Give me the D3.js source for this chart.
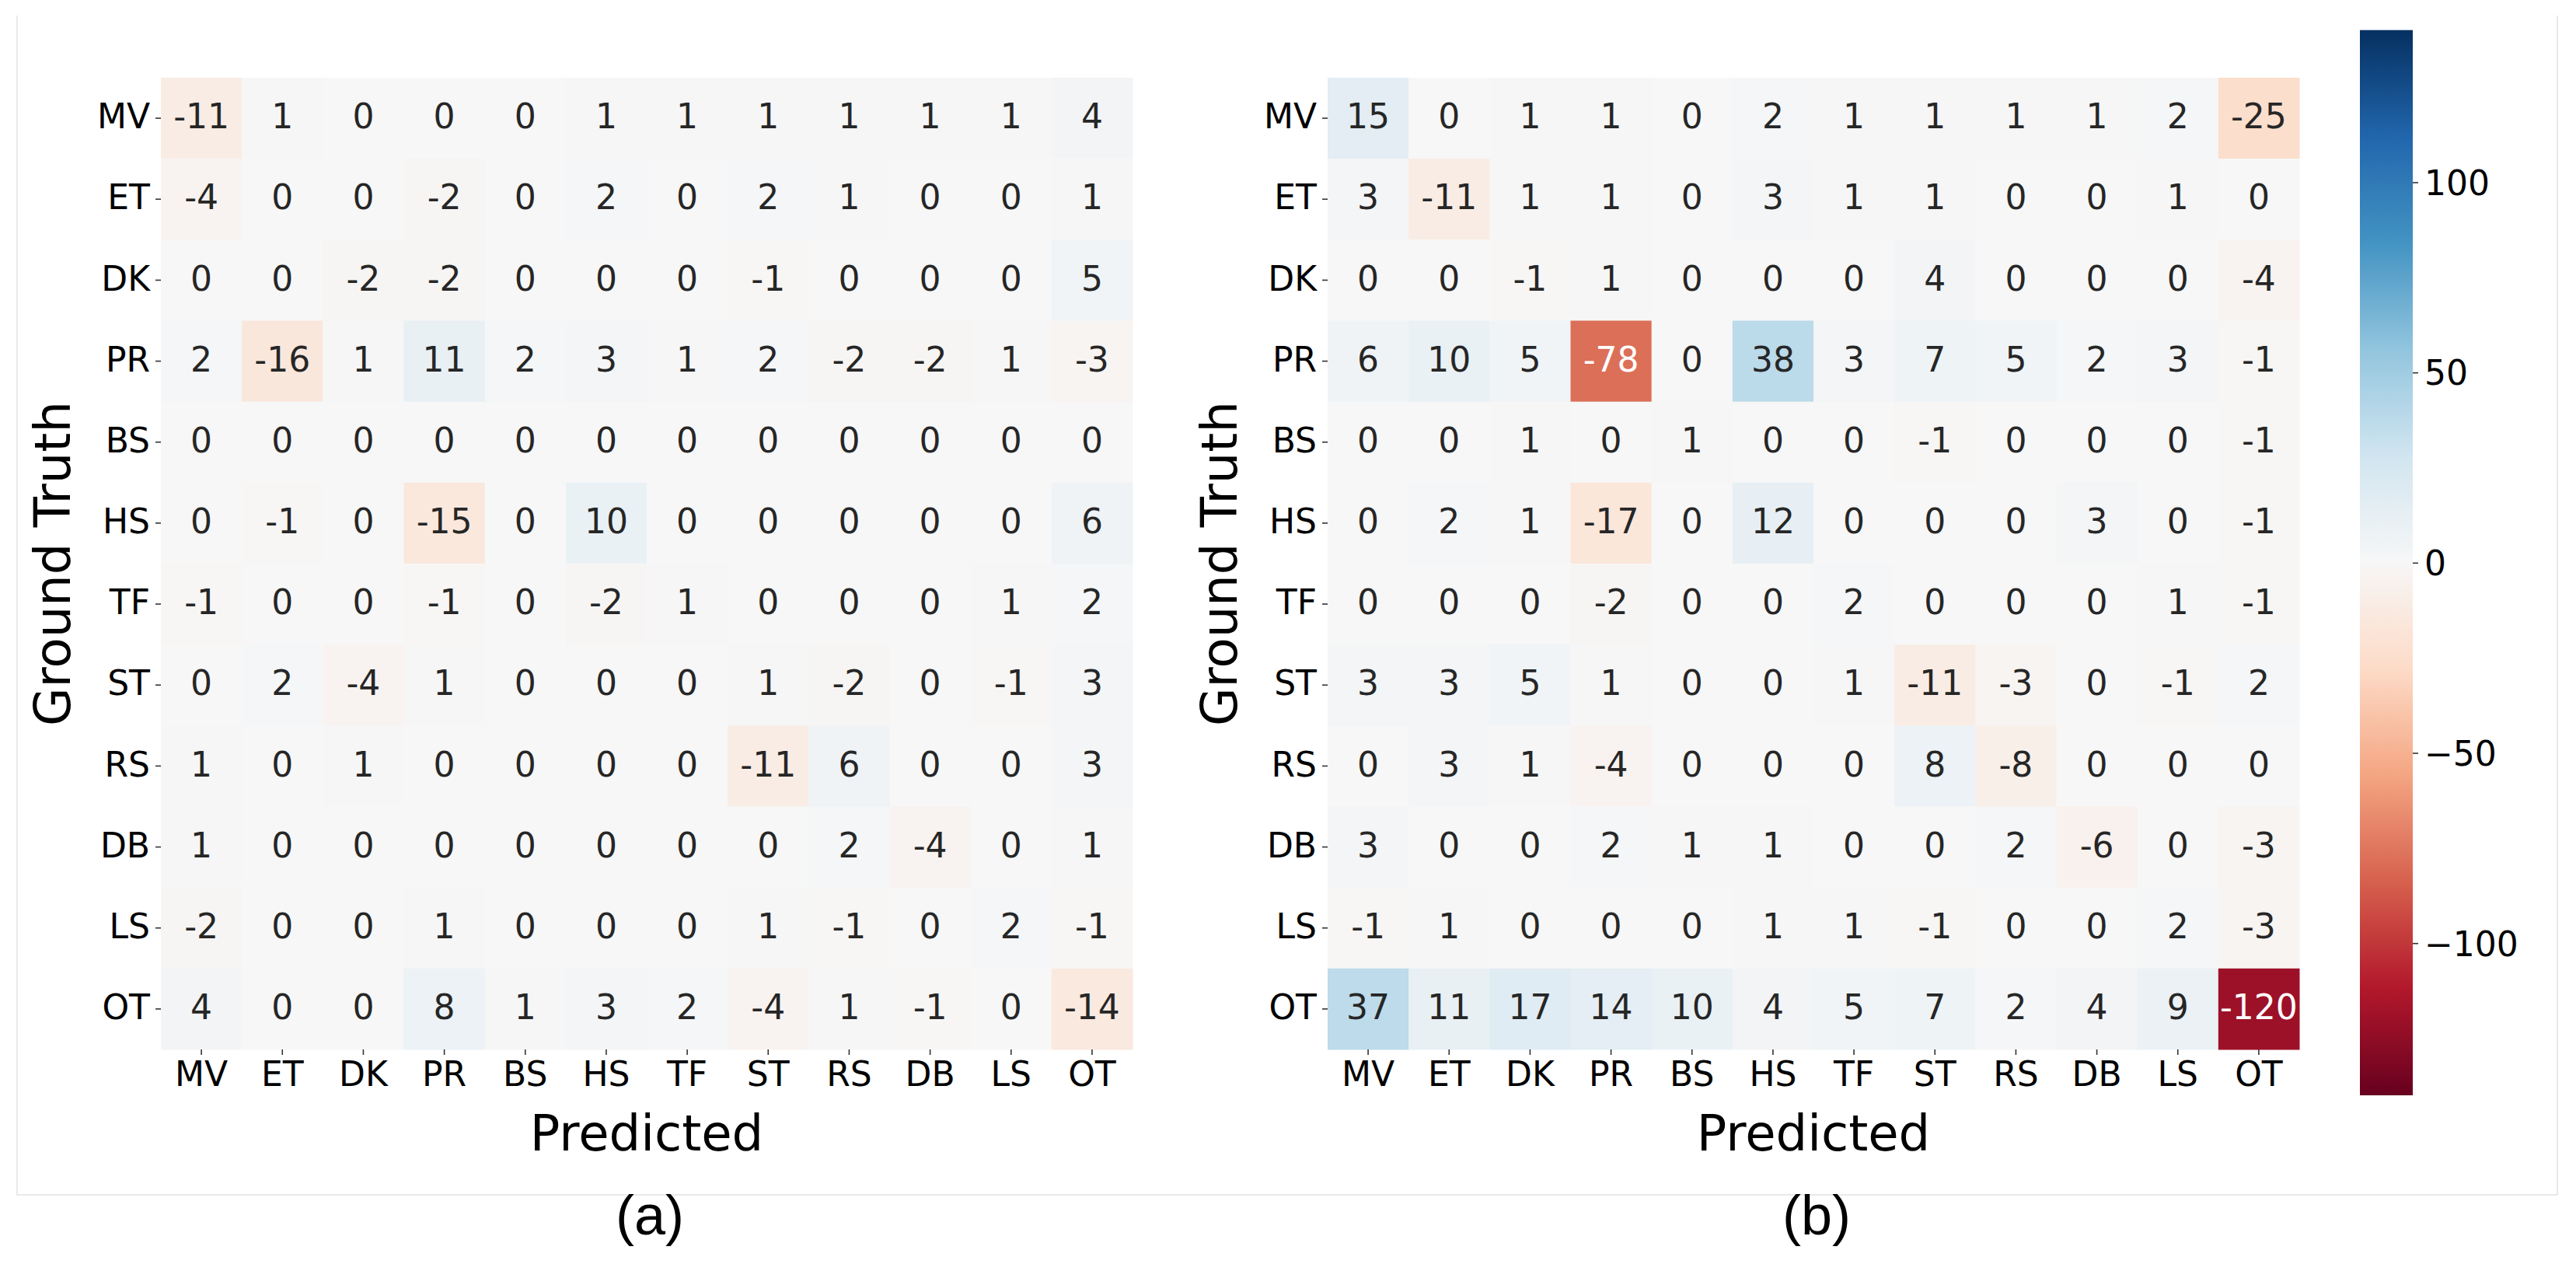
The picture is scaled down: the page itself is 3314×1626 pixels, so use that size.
<!DOCTYPE html>
<html>
<head>
<meta charset="utf-8">
<script src="https://cdn.jsdelivr.net/npm/d3@7"></script>
<style>
  body { margin: 0; background: #fff; }
  text { font-family: "DejaVu Sans", sans-serif; }
</style>
</head>
<body>
<div id="chart"></div>
<script>
// categories (rows = ground truth, columns = predicted)
const categories = ["MV", "ET", "DK", "PR", "BS", "HS", "TF", "ST", "RS", "DB", "LS", "OT"];

// panel (a)
const diffA = [
  [-11, 1, 0, 0, 0, 1, 1, 1, 1, 1, 1, 4],
  [-4, 0, 0, -2, 0, 2, 0, 2, 1, 0, 0, 1],
  [0, 0, -2, -2, 0, 0, 0, -1, 0, 0, 0, 5],
  [2, -16, 1, 11, 2, 3, 1, 2, -2, -2, 1, -3],
  [0, 0, 0, 0, 0, 0, 0, 0, 0, 0, 0, 0],
  [0, -1, 0, -15, 0, 10, 0, 0, 0, 0, 0, 6],
  [-1, 0, 0, -1, 0, -2, 1, 0, 0, 0, 1, 2],
  [0, 2, -4, 1, 0, 0, 0, 1, -2, 0, -1, 3],
  [1, 0, 1, 0, 0, 0, 0, -11, 6, 0, 0, 3],
  [1, 0, 0, 0, 0, 0, 0, 0, 2, -4, 0, 1],
  [-2, 0, 0, 1, 0, 0, 0, 1, -1, 0, 2, -1],
  [4, 0, 0, 8, 1, 3, 2, -4, 1, -1, 0, -14]
];

// panel (b)
const diffB = [
  [15, 0, 1, 1, 0, 2, 1, 1, 1, 1, 2, -25],
  [3, -11, 1, 1, 0, 3, 1, 1, 0, 0, 1, 0],
  [0, 0, -1, 1, 0, 0, 0, 4, 0, 0, 0, -4],
  [6, 10, 5, -78, 0, 38, 3, 7, 5, 2, 3, -1],
  [0, 0, 1, 0, 1, 0, 0, -1, 0, 0, 0, -1],
  [0, 2, 1, -17, 0, 12, 0, 0, 0, 3, 0, -1],
  [0, 0, 0, -2, 0, 0, 2, 0, 0, 0, 1, -1],
  [3, 3, 5, 1, 0, 0, 1, -11, -3, 0, -1, 2],
  [0, 3, 1, -4, 0, 0, 0, 8, -8, 0, 0, 0],
  [3, 0, 0, 2, 1, 1, 0, 0, 2, -6, 0, -3],
  [-1, 1, 0, 0, 0, 1, 1, -1, 0, 0, 2, -3],
  [37, 11, 17, 14, 10, 4, 5, 7, 2, 4, 9, -120]
];

const panelLabels = ["(a)", "(b)"];
const colorbarTicks = [100, 50, 0, -50, -100];
const vLimit = 140;
// matplotlib RdBu anchor colours
const rdbu = ["#67001f", "#b2182b", "#d6604d", "#f4a582", "#fddbc7", "#f7f7f7",
              "#d1e5f0", "#92c5de", "#4393c3", "#2166ac", "#053061"];

const W = 3314, H = 1626;
const svg = d3.select("#chart").append("svg")
  .attr("width", W)
  .attr("height", H);

// light frame around the figure (left, bottom, right)
svg.append("path")
  .attr("d", "M22,20V1537H3290V20")
  .attr("fill", "none")
  .attr("stroke", "#e2e2e2")
  .attr("stroke-width", 1.5);

const color = d3.scaleLinear()
  .domain(d3.range(rdbu.length).map(i => -vLimit + i * (2 * vLimit) / (rdbu.length - 1)))
  .range(rdbu)
  .interpolate(d3.interpolateRgb);

// seaborn style: light text on dark cells
function textColor(v) {
  const c = d3.rgb(color(v));
  const lin = x => { x /= 255; return x <= 0.03928 ? x / 12.92 : Math.pow((x + 0.055) / 1.055, 2.4); };
  const lum = 0.2126 * lin(c.r) + 0.7152 * lin(c.g) + 0.0722 * lin(c.b);
  return lum < 0.408 ? "#ffffff" : "#262626";
}

const side = 1250;
const topY = 100;

function drawHeatmap(x0, data, label) {
  const g = svg.append("g").attr("transform", `translate(${x0},${topY})`);

  const x = d3.scaleBand().domain(categories).range([0, side]);
  const y = d3.scaleBand().domain(categories).range([0, side]);

  const cells = [];
  data.forEach((row, i) => row.forEach((v, j) => cells.push({ r: categories[i], c: categories[j], v })));

  g.selectAll("rect.cell")
    .data(cells)
    .join("rect")
    .attr("class", "cell")
    .attr("x", d => x(d.c))
    .attr("y", d => y(d.r))
    .attr("width", x.bandwidth() + 0.5)
    .attr("height", y.bandwidth() + 0.5)
    .attr("fill", d => color(d.v));

  g.selectAll("text.val")
    .data(cells)
    .join("text")
    .attr("class", "val")
    .attr("x", d => x(d.c) + x.bandwidth() / 2)
    .attr("y", d => y(d.r) + y.bandwidth() / 2)
    .attr("dy", "0.3em")
    .attr("text-anchor", "middle")
    .attr("font-size", 44)
    .attr("fill", d => textColor(d.v))
    .text(d => d.v);

  // axes
  const yAxis = g.append("g")
    .call(d3.axisLeft(y).tickSize(7).tickPadding(7));
  const xAxis = g.append("g")
    .attr("transform", `translate(0,${side})`)
    .call(d3.axisBottom(x).tickSize(7).tickPadding(9));

  [xAxis, yAxis].forEach(a => {
    a.select(".domain").remove();
    a.selectAll(".tick line").attr("stroke", "#333").attr("stroke-width", 1.6);
    a.selectAll(".tick text")
      .attr("font-family", "DejaVu Sans, sans-serif")
      .attr("font-size", 44)
      .attr("fill", "#000");
  });
  yAxis.selectAll(".tick text").attr("dy", "0.3em");
  xAxis.selectAll(".tick text").attr("dy", "0.71em");

  g.append("text")
    .attr("x", side / 2)
    .attr("y", 1380)
    .attr("text-anchor", "middle")
    .attr("font-size", 64)
    .attr("fill", "#000")
    .text("Predicted");

  g.append("text")
    .attr("transform", `translate(-117,${side / 2}) rotate(-90)`)
    .attr("text-anchor", "middle")
    .attr("font-size", 64)
    .attr("fill", "#000")
    .text("Ground Truth");

  svg.append("text")
    .attr("x", x0 + side / 2 + 4)
    .attr("y", 1588)
    .attr("text-anchor", "middle")
    .style("font-family", "'Liberation Sans', Arial, sans-serif")
    .attr("font-size", 72)
    .attr("fill", "#000")
    .text(label);
}

drawHeatmap(207, diffA, panelLabels[0]);
drawHeatmap(1708, diffB, panelLabels[1]);

// colorbar
const cbX = 3036, cbW = 68, cbTop = 38.7, cbBottom = 1409;
const cbScale = d3.scaleLinear().domain([-vLimit, vLimit]).range([cbBottom, cbTop]);

const grad = svg.append("defs").append("linearGradient")
  .attr("id", "cbgrad")
  .attr("x1", 0).attr("y1", 1).attr("x2", 0).attr("y2", 0);
grad.selectAll("stop")
  .data(d3.range(0, 1.0001, 0.02))
  .join("stop")
  .attr("offset", d => d)
  .attr("stop-color", d => color(-vLimit + d * 2 * vLimit));

svg.append("rect")
  .attr("x", cbX)
  .attr("y", cbTop)
  .attr("width", cbW)
  .attr("height", cbBottom - cbTop)
  .attr("fill", "url(#cbgrad)");

const cbAxis = svg.append("g")
  .attr("transform", `translate(${cbX + cbW},0)`)
  .call(d3.axisRight(cbScale).tickValues(colorbarTicks).tickSize(7).tickPadding(8)
    .tickFormat(d => d < 0 ? "\u2212" + Math.abs(d) : String(d)));
cbAxis.select(".domain").remove();
cbAxis.selectAll(".tick line").attr("stroke", "#333").attr("stroke-width", 1.6);
cbAxis.selectAll(".tick text")
  .attr("font-family", "DejaVu Sans, sans-serif")
  .attr("font-size", 44)
  .attr("fill", "#000")
  .attr("dy", "0.36em");
</script>
</body>
</html>
